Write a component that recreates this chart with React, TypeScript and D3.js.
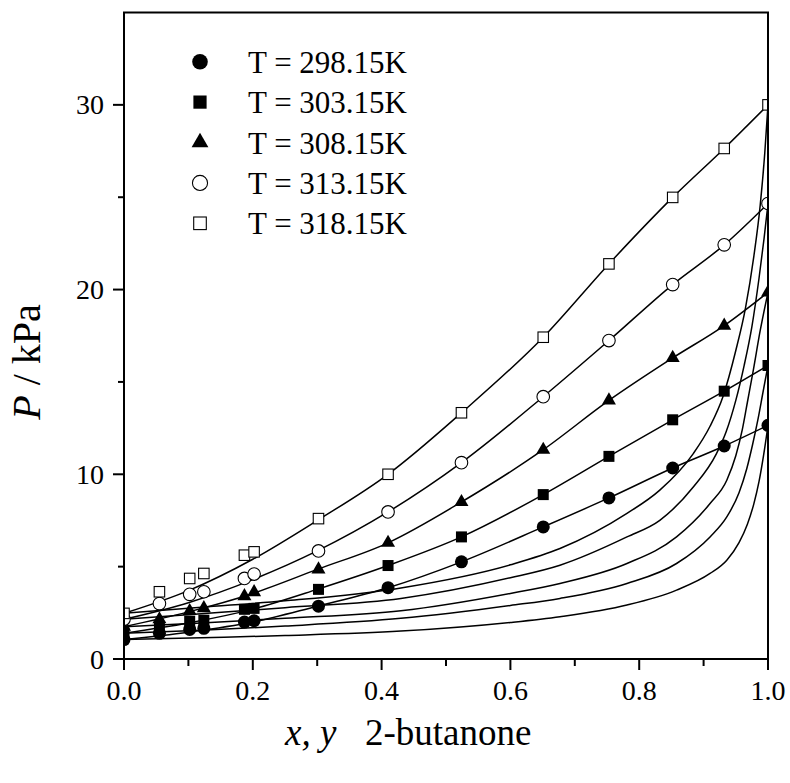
import React from "react";
import * as d3 from "d3";

// ---------- data ----------
const temps = ["298.15", "303.15", "308.15", "313.15", "318.15"];
const xObs = [0, 0.055, 0.102, 0.124, 0.187, 0.202, 0.302, 0.41, 0.524, 0.651, 0.753, 0.852, 0.932, 1.0];
const P298 = [1.05, 1.39, 1.6, 1.66, 2.0, 2.07, 2.86, 3.86, 5.26, 7.15, 8.72, 10.34, 11.53, 12.65];
const P303 = [1.4, 1.75, 2.05, 2.1, 2.69, 2.74, 3.77, 5.06, 6.61, 8.9, 10.97, 12.95, 14.5, 15.89];
const P308 = [1.75, 2.15, 2.6, 2.75, 3.4, 3.62, 4.85, 6.29, 8.5, 11.33, 14.0, 16.3, 18.05, 19.85];
const P313 = [2.15, 3.0, 3.5, 3.64, 4.36, 4.6, 5.85, 7.96, 10.63, 14.2, 17.24, 20.27, 22.42, 24.66];
const P318 = [2.47, 3.64, 4.36, 4.63, 5.62, 5.8, 7.6, 10.0, 13.33, 17.42, 21.39, 24.99, 27.64, 30.0];

// fitted bubble curves (P-x)
const xFit = [0, 0.1, 0.2, 0.3, 0.41, 0.524, 0.651, 0.753, 0.852, 0.932, 1.0];
const fit298 = [1.05, 1.45, 2.0, 2.86, 3.86, 5.26, 7.15, 8.72, 10.34, 11.53, 12.65];
const fit303 = [1.4, 1.95, 2.7, 3.77, 5.06, 6.61, 8.9, 10.97, 12.95, 14.5, 15.89];
const fit308 = [1.75, 2.55, 3.55, 4.85, 6.29, 8.5, 11.33, 14.0, 16.3, 18.05, 19.85];
const fit313 = [2.15, 3.05, 4.3, 5.85, 7.96, 10.63, 14.2, 17.24, 20.27, 22.42, 24.66];
const fit318 = [2.47, 3.7, 5.4, 7.5, 10.0, 13.33, 17.42, 21.39, 24.99, 27.64, 30.0];

// fitted dew curves (P-y)
const dewX298 = [0, 0.12, 0.25, 0.43, 0.6, 0.677, 0.781, 0.858, 0.91, 0.936, 0.955, 0.968, 0.978, 0.986, 0.993, 1.0];
const dewP298 = [1.05, 1.15, 1.27, 1.51, 1.98, 2.29, 2.92, 3.73, 4.63, 5.35, 6.3, 7.3, 8.4, 9.6, 11.0, 12.65];
const dewX303 = [0, 0.12, 0.25, 0.43, 0.6, 0.677, 0.781, 0.858, 0.91, 0.936, 0.955, 0.967, 0.976, 0.984, 0.992, 1.0];
const dewP303 = [1.4, 1.55, 1.78, 2.2, 2.9, 3.28, 4.09, 5.17, 6.61, 7.69, 9.0, 10.3, 11.6, 12.9, 14.4, 15.89];
const dewX308 = [0, 0.12, 0.25, 0.43, 0.6, 0.677, 0.781, 0.858, 0.91, 0.936, 0.95, 0.96, 0.968, 0.977, 0.988, 1.0];
const dewP308 = [1.75, 1.95, 2.2, 2.61, 3.55, 4.09, 5.17, 6.61, 8.42, 9.68, 11.0, 12.4, 13.9, 15.6, 17.8, 19.85];
const dewX313 = [0, 0.12, 0.25, 0.43, 0.6, 0.677, 0.781, 0.832, 0.884, 0.92, 0.935, 0.95, 0.963, 0.975, 0.986, 0.994, 1.0];
const dewP313 = [2.15, 2.45, 2.78, 3.28, 4.4, 5.08, 6.61, 7.51, 9.31, 11.12, 12.3, 14.0, 15.9, 18.0, 20.6, 22.8, 24.66];
const dewX318 = [0, 0.12, 0.25, 0.43, 0.6, 0.677, 0.781, 0.832, 0.884, 0.91, 0.93, 0.95, 0.965, 0.978, 0.988, 0.995, 1.0];
const dewP318 = [2.47, 2.8, 3.15, 3.85, 5.1, 5.98, 7.88, 9.14, 11.12, 12.6, 14.2, 16.7, 19.0, 21.8, 24.6, 27.4, 30.0];

const xTicks = [0, 0.2, 0.4, 0.6, 0.8, 1.0];
const xMinor = [0.1, 0.3, 0.5, 0.7, 0.9];
const yTicks = [0, 10, 20, 30];
const yMinor = [5, 15, 25];

const obsSeries = [P298, P303, P308, P313, P318];
const fitSeries = [fit298, fit303, fit308, fit313, fit318];
const dewSeries = [
  [dewX298, dewP298],
  [dewX303, dewP303],
  [dewX308, dewP308],
  [dewX313, dewP313],
  [dewX318, dewP318],
];
const markerTypes = ["circleFilled", "squareFilled", "triangleFilled", "circleOpen", "squareOpen"];

// ---------- layout ----------
const W = 790;
const H = 783;
const L = 124, R = 768, T = 12.5, B = 659;
const FONT = "'Liberation Serif', 'Times New Roman', serif";

const x = d3.scaleLinear().domain([0, 1]).range([L, R]);
const y = d3.scaleLinear().domain([0, 35]).range([B, T]);

const line = d3
  .line<[number, number]>()
  .x((d) => x(d[0]))
  .y((d) => y(d[1]))
  .curve(d3.curveMonotoneX);

function Marker({ type, cx, cy, scale = 1 }: { type: string; cx: number; cy: number; scale?: number }) {
  const filled = type.endsWith("Filled");
  const fill = filled ? "#000" : "#fff";
  const stroke = "#000";
  if (type.startsWith("circle")) {
    const r = (filled ? 6.5 : 6.3) * scale;
    return <circle cx={cx} cy={cy} r={r} fill={fill} stroke={stroke} strokeWidth={filled ? 0 : 1.1} />;
  }
  if (type.startsWith("square")) {
    const s = (filled ? 11 : 10.5) * scale;
    return (
      <rect x={cx - s / 2} y={cy - s / 2} width={s} height={s} fill={fill} stroke={stroke} strokeWidth={filled ? 0 : 1.1} />
    );
  }
  const a = 14 * scale;
  const path = d3.symbol().type(d3.symbolTriangle).size((Math.sqrt(3) / 4) * a * a)();
  return <path d={path || ""} transform={`translate(${cx},${cy})`} fill={fill} />;
}

export default function App() {
  return (
    <svg
      width={W}
      height={H}
      style={{ position: "absolute", left: 0, top: 0, background: "#fff" }}
      fontFamily={FONT}
    >
      <defs>
        <clipPath id="plotClip">
          <rect x={L} y={T} width={R - L} height={B - T} />
        </clipPath>
      </defs>
      <rect x={0} y={0} width={W} height={H} fill="#fff" />

      <g clipPath="url(#plotClip)">
        {fitSeries.map((s, i) => (
          <path
            key={"fit" + i}
            d={line(xFit.map((xv, j) => [xv, s[j]] as [number, number])) || ""}
            fill="none"
            stroke="#000"
            strokeWidth={1.5}
          />
        ))}
        {dewSeries.map(([xs, ps], i) => (
          <path
            key={"dew" + i}
            d={line(xs.map((xv, j) => [xv, ps[j]] as [number, number])) || ""}
            fill="none"
            stroke="#000"
            strokeWidth={1.5}
          />
        ))}
        {obsSeries.map((s, i) =>
          s.map((p, j) => <Marker key={`m${i}-${j}`} type={markerTypes[i]} cx={x(xObs[j])} cy={y(p)} />)
        )}
      </g>

      {/* frame */}
      <path d={`M${L},${B}H${R}V${T}H${L}Z`} fill="none" stroke="#000" strokeWidth={2} />

      {/* x ticks */}
      {xTicks.map((t) => (
        <g key={"xt" + t}>
          <line x1={x(t)} x2={x(t)} y1={B} y2={B + 11} stroke="#000" strokeWidth={2} />
          <text x={x(t)} y={700} textAnchor="middle" fontSize={28} fill="#000">
            {t.toFixed(1)}
          </text>
        </g>
      ))}
      {xMinor.map((t) => (
        <line key={"xm" + t} x1={x(t)} x2={x(t)} y1={B} y2={B + 7} stroke="#000" strokeWidth={2} />
      ))}

      {/* y ticks */}
      {yTicks.map((t) => (
        <g key={"yt" + t}>
          <line x1={L - 11} x2={L} y1={y(t)} y2={y(t)} stroke="#000" strokeWidth={2} />
          <text x={104} y={y(t) + 9.5} textAnchor="end" fontSize={28} fill="#000">
            {t}
          </text>
        </g>
      ))}
      {yMinor.map((t) => (
        <line key={"ym" + t} x1={L - 6} x2={L} y1={y(t)} y2={y(t)} stroke="#000" strokeWidth={2} />
      ))}

      {/* axis titles */}
      <text transform="translate(40,362) rotate(-90)" textAnchor="middle" fontSize={40} fill="#000">
        <tspan fontStyle="italic">P</tspan>
        <tspan> / kPa</tspan>
      </text>
      <text x={285} y={745} fontSize={37} fill="#000" fontStyle="italic">
        x, y
      </text>
      <text x={365} y={745} fontSize={37} fill="#000">
        2-butanone
      </text>

      {/* legend */}
      {temps.map((tLabel, i) => {
        const cy = 61.7 + i * 40.4;
        return (
          <g key={"lg" + i}>
            <Marker type={markerTypes[i]} cx={200} cy={cy} scale={1.2} />
            <text x={248} y={cy + 11} fontSize={31} fill="#000">
              {`T = ${tLabel}K`}
            </text>
          </g>
        );
      })}
    </svg>
  );
}
